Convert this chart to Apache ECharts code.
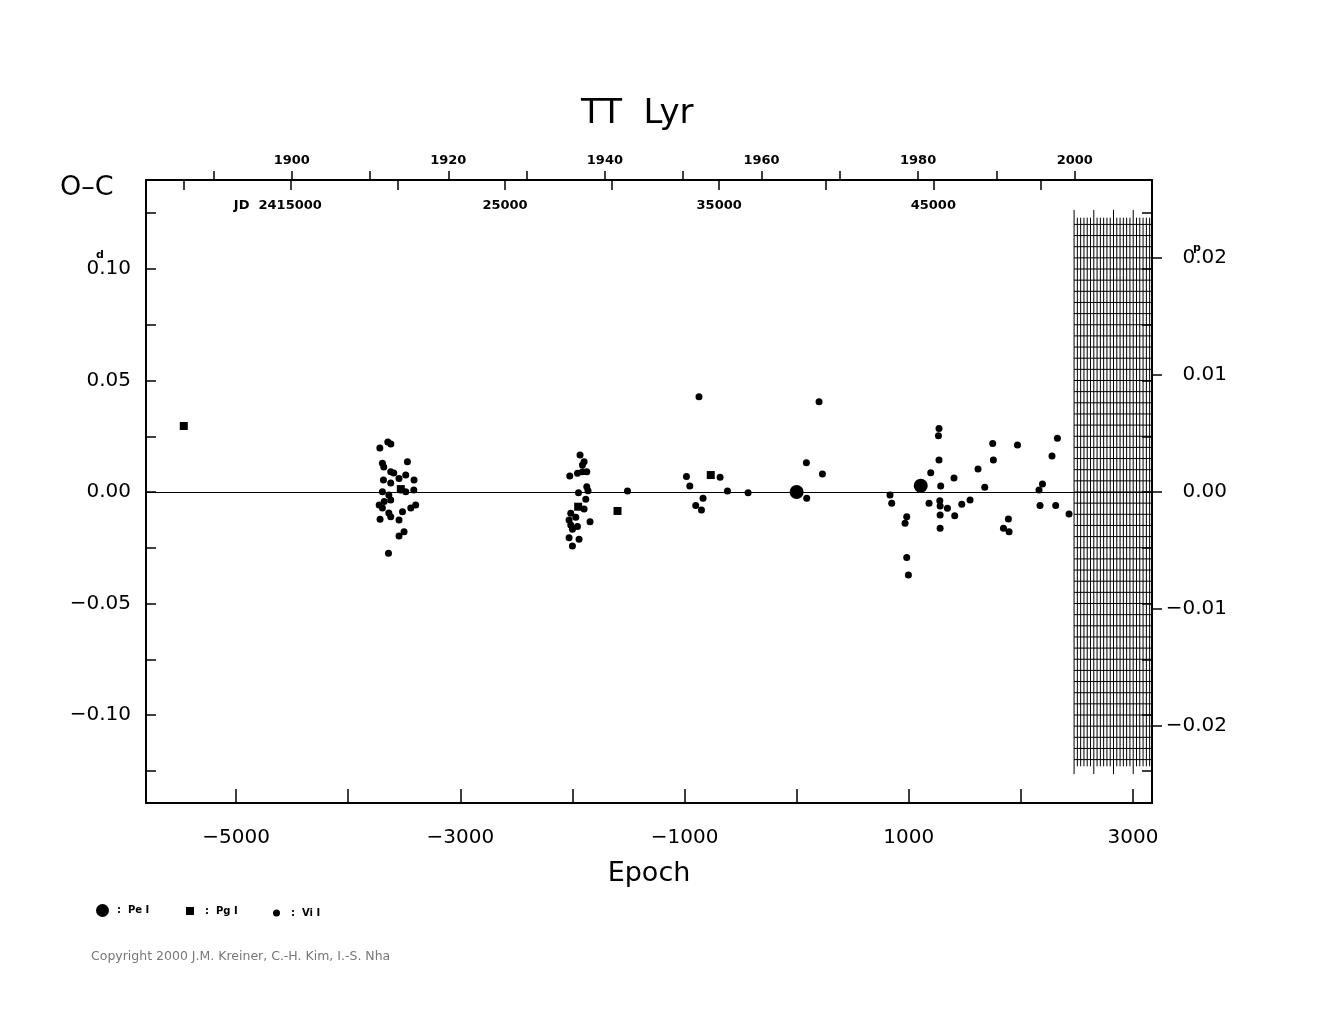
<!DOCTYPE html>
<html>
<head>
<meta charset="utf-8">
<title>TT Lyr O-C</title>
<script src="https://cdn.jsdelivr.net/npm/echarts@6/dist/echarts.min.js"></script>
<style>
  html, body { margin: 0; padding: 0; background: #fff; }
  #chart { width: 1325px; height: 1020px; }
</style>
</head>
<body>
<div id="chart"></div>
<script>
// O-C data (epoch, O-C in days)
var viEpoch = [
  -3647, -3620, -3718, -3695, -3683, -3472, -3621, -3594, -3487, -3686, -3547, -3413, -3621,
  -3695, -3531, -3487, -3415, -3638, -3724, -3679, -3621, -3695, -3398, -3442, -3638, -3516,
  -3716, -3621, -3547, -3502, -3547, -3641,
  -1932, -1896, -1911, -1872, -1911, -2024, -1955, -1872, -1861, -1946, -1881, -1896, -2015,
  -1970, -2030, -1843, -2015, -1955, -2000, -2030, -1941, -2000, -1509,
  -871, 200, 87, 230, -983, -683, -953, -617, -433, 90, -835, -900, -849,
  1270, 1265, 1270, 1196, 1749, 1755, 1970, 2326, 2278, 1618, 1404, 1285, 1678, 2193, 2162,
  833, 848, 1181, 1277, 1280, 1345, 1473, 1547, 2171, 2311, 2430, 1280, 1410, 982, 967,
  1280, 1889, 1845, 1895, 982, 997
]
var viOC = [
  0.0224, 0.0215, 0.0197, 0.0129, 0.0112, 0.0136, 0.0091, 0.0085, 0.0076, 0.0054, 0.0061, 0.0054, 0.0040,
  0.0001, 0.0009, 0.0001, 0.0009, -0.0013, -0.0058, -0.0043, -0.0036, -0.0072, -0.0058, -0.0072, -0.0094, -0.0088,
  -0.0122, -0.0111, -0.0125, -0.0178, -0.0197, -0.0275,
  0.0166, 0.0136, 0.0121, 0.0091, 0.0091, 0.0072, 0.0084, 0.0024, 0.0006, -0.0003, -0.0033, -0.0076, -0.0095,
  -0.0113, -0.0125, -0.0133, -0.0148, -0.0155, -0.0167, -0.0205, -0.0212, -0.0242, 0.0004,
  0.0427, 0.0405, 0.0131, 0.0081, 0.0069, 0.0066, 0.0027, 0.0004, -0.0003, -0.0028, -0.0028, -0.0061, -0.0081,
  0.0285, 0.0252, 0.0143, 0.0086, 0.0218, 0.0143, 0.0211, 0.0241, 0.0161, 0.0103, 0.0063, 0.0027, 0.0021, 0.0036, 0.0009,
  -0.0013, -0.0051, -0.0051, -0.0039, -0.0063, -0.0073, -0.0055, -0.0036, -0.0061, -0.0061, -0.0099, -0.0103, -0.0106, -0.0111, -0.0140,
  -0.0163, -0.0121, -0.0163, -0.0178, -0.0294, -0.0372
]
var pgEpoch = [-5467, -3531, -1949, -1598, -766]
var pgOC = [0.0296, 0.0013, -0.0066, -0.0085, 0.0076]
var peEpoch = [0, 1107]
var peOC = [0.0, 0.0028]

// tick labels
var epochLabels = [-5000, -3000, -1000, 1000, 3000]
var epochTicks = [-5000, -4000, -3000, -2000, -1000, 0, 1000, 2000, 3000]
var ocLabels = [-0.10, -0.05, 0, 0.05, 0.10]
var ocTicks = [-0.125, -0.10, -0.075, -0.05, -0.025, 0, 0.025, 0.05, 0.075, 0.10, 0.125]
var periodLabels = [-0.02, -0.01, 0, 0.01, 0.02]
var yearLabels = [1900, 1920, 1940, 1960, 1980, 2000]
var yearTicks = [1890, 1900, 1910, 1920, 1930, 1940, 1950, 1960, 1970, 1980, 1990, 2000]
var jdLabels = [15000, 25000, 35000, 45000]
var jdTicks = [10000, 15000, 20000, 25000, 30000, 35000, 40000, 45000, 50000]

// hatched block on the right (no observations yet)
var hatchStart = 2475
var hatchEnd = 3170
var hatchStep = 29.3
var hatchLevel = 0.005

function zip(a, b) {
  return a.map(function (v, i) { return [v, b[i]] })
}
function minus(s) {
  return String(s).replace('-', '\u2212')
}

var hatchV = []
for (var e = hatchStart, k = 0; e < hatchEnd - 5; e += hatchStep, k++) {
  hatchV.push([e, k % 6 === 0 ? 1 : 0])
}
var hatchH = []
for (var j = -24; j <= 24; j++) {
  hatchH.push([hatchStart, j * hatchLevel])
}

var font = 'DejaVu Sans'
var myChart = echarts.init(document.getElementById('chart'))

var option = {
  animation: false,
  backgroundColor: '#fff',
  textStyle: { fontFamily: font, color: '#000' },
  title: {
    text: 'TT  Lyr',
    left: 576,
    top: 92,
    textStyle: { fontFamily: font, fontSize: 34, fontWeight: 'normal', color: '#000' }
  },
  grid: { left: 146, top: 180, width: 1006, height: 623, containLabel: false },
  legend: [
    {
      data: ['Pe I'], left: 91, top: 899, itemWidth: 13, itemHeight: 13, icon: 'circle',
      formatter: function (n) { return ':  ' + n },
      textStyle: { fontFamily: font, fontSize: 10, fontWeight: 'bold', color: '#000', padding: [0, 0, 0, 3] }
    },
    {
      data: ['Pg I'], left: 181, top: 901, itemWidth: 8, itemHeight: 8, icon: 'rect',
      formatter: function (n) { return ':  ' + n },
      textStyle: { fontFamily: font, fontSize: 10, fontWeight: 'bold', color: '#000', padding: [0, 0, 0, 6] }
    },
    {
      data: ['Vi I'], left: 268, top: 903, itemWidth: 7, itemHeight: 7, icon: 'circle',
      formatter: function (n) { return ':  ' + n },
      textStyle: { fontFamily: font, fontSize: 10, fontWeight: 'bold', color: '#000', padding: [0, 0, 0, 6] }
    }
  ],
  xAxis: [
    {
      // epoch
      type: 'value', position: 'bottom', min: -5804, max: 3170,
      axisLine: { show: true, onZero: false, lineStyle: { color: '#000', width: 2 } },
      axisTick: { show: true, inside: true, length: 14, customValues: epochTicks, lineStyle: { color: '#000', width: 1.5 } },
      axisLabel: {
        customValues: epochLabels, margin: 25, fontSize: 20, color: '#000', fontFamily: font,
        formatter: function (v) { return minus(v) }
      },
      splitLine: { show: false },
      name: 'Epoch', nameLocation: 'middle', nameGap: 57,
      nameTextStyle: { fontSize: 27, color: '#000', fontFamily: font }
    },
    {
      // calendar years
      type: 'value', position: 'top', min: 1881.39, max: 2009.87,
      axisLine: { show: true, onZero: false, lineStyle: { color: '#000', width: 2 } },
      axisTick: { show: true, inside: false, length: 9, customValues: yearTicks, lineStyle: { color: '#000', width: 1.5 } },
      axisLabel: {
        customValues: yearLabels, margin: 13, fontSize: 13, fontWeight: 'bold', color: '#000', fontFamily: font,
        formatter: function (v) { return String(v) }
      },
      splitLine: { show: false }
    },
    {
      // julian date
      type: 'value', position: 'top', min: 8236, max: 55212,
      axisLine: { show: false, onZero: false },
      axisTick: { show: true, inside: true, length: 10, customValues: jdTicks, lineStyle: { color: '#000', width: 1.5 } },
      axisLabel: {
        inside: true, customValues: jdLabels, margin: 19, fontSize: 13, fontWeight: 'bold', color: '#000', fontFamily: font,
        formatter: function (v) {
          return v === 15000 ? '{jd|JD  2415000}' : String(v)
        },
        rich: { jd: { fontSize: 13, fontWeight: 'bold', fontFamily: font, padding: [0, 26, 0, 0] } }
      },
      splitLine: { show: false }
    }
  ],
  yAxis: [
    {
      // O-C in days
      type: 'value', position: 'left', min: -0.13946, max: 0.13991,
      axisLine: { show: true, onZero: false, lineStyle: { color: '#000', width: 2 } },
      axisTick: { show: true, inside: true, length: 10, customValues: ocTicks, lineStyle: { color: '#000', width: 1.5 } },
      axisLabel: {
        customValues: ocLabels, margin: 15, fontSize: 20, color: '#000', fontFamily: font,
        formatter: function (v) { return minus(v.toFixed(2)) }
      },
      splitLine: { show: false }
    },
    {
      // O-C in periods
      type: 'value', position: 'right', min: -0.02658, max: 0.02667,
      axisLine: { show: true, onZero: false, lineStyle: { color: '#000', width: 2 } },
      axisTick: { show: true, inside: false, length: 10, customValues: periodLabels, lineStyle: { color: '#000', width: 1.5 } },
      axisLabel: {
        customValues: periodLabels, margin: 75, align: 'right', fontSize: 20, color: '#000', fontFamily: font,
        formatter: function (v) { return minus(v.toFixed(2)) }
      },
      splitLine: { show: false }
    },
    {
      // mirrored day ticks on the right frame
      type: 'value', position: 'right', min: -0.13946, max: 0.13991,
      axisLine: { show: false, onZero: false },
      axisTick: { show: true, inside: true, length: 10, customValues: ocTicks, lineStyle: { color: '#000', width: 1.5 } },
      axisLabel: { show: false },
      splitLine: { show: false }
    }
  ],
  graphic: [
    { type: 'text', left: 60, top: 174, style: { text: 'O\u2013C', font: '27px "DejaVu Sans"', fill: '#000' } },
    { type: 'text', left: 96, top: 250, style: { text: 'd', font: 'bold 11px "DejaVu Sans"', fill: '#000' } },
    { type: 'text', left: 1193, top: 243, style: { text: 'p', font: 'bold 11px "DejaVu Sans"', fill: '#000' } },
    { type: 'text', left: 91, top: 950, style: { text: 'Copyright 2000 J.M. Kreiner, C.-H. Kim, I.-S. Nha', font: '12.5px "DejaVu Sans"', fill: '#777' } }
  ],
  series: [
    {
      name: 'Vi I', type: 'scatter', xAxisIndex: 0, yAxisIndex: 0,
      symbol: 'circle', symbolSize: 7, itemStyle: { color: '#000', opacity: 1 },
      data: zip(viEpoch, viOC),
      markLine: {
        silent: true, symbol: 'none', label: { show: false },
        lineStyle: { color: '#000', width: 1, type: 'solid' },
        data: [{ yAxis: 0 }]
      }
    },
    {
      name: 'Pg I', type: 'scatter', xAxisIndex: 0, yAxisIndex: 0,
      symbol: 'rect', symbolSize: 8, itemStyle: { color: '#000', opacity: 1 },
      data: zip(pgEpoch, pgOC)
    },
    {
      name: 'Pe I', type: 'scatter', xAxisIndex: 0, yAxisIndex: 0,
      symbol: 'circle', symbolSize: 14, itemStyle: { color: '#000', opacity: 1 },
      data: zip(peEpoch, peOC)
    },
    {
      // hatch verticals
      type: 'custom', xAxisIndex: 0, yAxisIndex: 0, silent: true,
      data: hatchV,
      renderItem: function (params, api) {
        var top = api.value(1) ? 0.1265 : 0.123
        var p1 = api.coord([api.value(0), top])
        var p2 = api.coord([api.value(0), -top])
        return { type: 'line', shape: { x1: p1[0], y1: p1[1], x2: p2[0], y2: p2[1] }, style: { stroke: '#000', lineWidth: 1 } }
      }
    },
    {
      // hatch horizontals
      type: 'custom', xAxisIndex: 0, yAxisIndex: 0, silent: true,
      data: hatchH,
      renderItem: function (params, api) {
        var p1 = api.coord([api.value(0), api.value(1)])
        var p2 = api.coord([hatchEnd, api.value(1)])
        return { type: 'line', shape: { x1: p1[0], y1: p1[1], x2: p2[0], y2: p2[1] }, style: { stroke: '#000', lineWidth: 1 } }
      }
    }
  ]
}

myChart.setOption(option)
</script>
</body>
</html>
